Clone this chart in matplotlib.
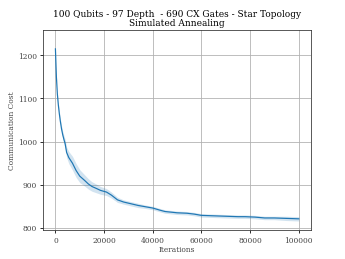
import matplotlib
matplotlib.use("Agg")
import matplotlib.pyplot as plt
import numpy as np

plt.rcParams["font.family"] = "DejaVu Serif"

# values
iterations = [0, 400, 800, 1200, 1600, 2000, 2500, 3000, 3500, 4000, 4600,
              5500, 7000, 8500, 10000, 12000, 13500, 15000, 17000, 18500,
              21000, 23000, 25500, 28000, 31000, 34000, 37000, 40000, 43000,
              45000, 50000, 54000, 57000, 60000, 65000, 70000, 75000, 78000,
              82000, 86000, 90000, 95000, 100000]
cost_mean = [1215, 1150, 1110, 1085, 1065, 1048, 1030, 1016, 1005, 995, 975,
             963, 950, 933, 920, 910, 902, 896, 891, 887,
             883, 876, 865, 860, 856, 852, 849, 846, 841,
             838, 835, 834, 832, 829, 828, 827, 826, 826,
             825, 823, 823, 822, 821]
cost_std = [2, 3, 4, 5, 6, 6, 7, 8, 9, 10, 12,
            14, 16, 16, 15, 13, 12, 11, 10, 9,
            8, 7, 6, 5, 5, 5, 4, 4, 4,
            4, 4, 4, 4, 4, 4, 4, 4, 4,
            4, 4, 4, 5, 5]

x = np.array(iterations)
m = np.array(cost_mean)
s = np.array(cost_std)

fig = plt.figure(figsize=(4.8, 3.6), dpi=72)
ax = fig.add_axes([43.3 / 346, 1 - 230.5 / 259, (311.3 - 43.3) / 346, (230.5 - 30.5) / 259])

ax.fill_between(x, m - s, m + s, color="#1f77b4", alpha=0.2, linewidth=0)
ax.plot(x, m, color="#1f77b4", linewidth=1.2)

ax.set_xlim(-5000, 105000)
ax.set_ylim(794, 1258)
ax.set_xticks([0, 20000, 40000, 60000, 80000, 100000])
ax.set_yticks([800, 900, 1000, 1100, 1200])
ax.grid(True, color="#b0b0b0", linewidth=0.8)
ax.set_axisbelow(True)
ax.tick_params(labelsize=7.5, labelcolor="#444444", length=3)
for sp in ax.spines.values():
    sp.set_color("#333333")

ax.set_title("100 Qubits - 97 Depth  - 690 CX Gates - Star Topology\nSimulated Annealing",
             fontsize=9, linespacing=1.0, pad=5)
ax.set_xlabel("Iterations", fontsize=7.5, color="#444444", labelpad=1)
ax.set_ylabel("Communication Cost", fontsize=7.5, color="#444444", labelpad=2)

fig.savefig("out.png", dpi=72)
